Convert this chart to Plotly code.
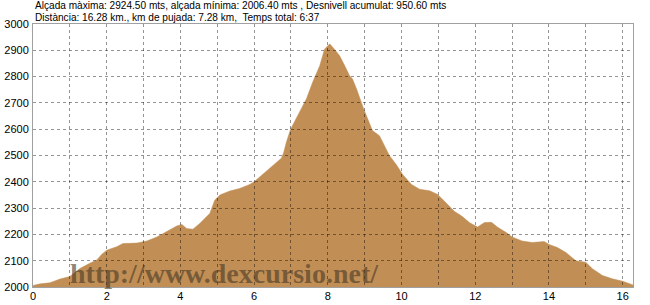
import plotly.graph_objects as go

distance_km = [0.0, 0.05, 0.2, 0.46, 0.73, 1.0, 1.27, 1.54, 1.73, 1.87, 2.0, 2.27, 2.44, 2.82,
               3.09, 3.36, 3.63, 3.9, 4.04, 4.17, 4.34, 4.53, 4.8, 4.93, 5.07, 5.34, 5.61, 5.88,
               6.0, 6.23, 6.5, 6.74, 6.8, 6.88, 6.99, 7.24, 7.42, 7.59, 7.78, 7.91, 8.05, 8.18,
               8.32, 8.46, 8.59, 8.67, 8.78, 8.97, 9.21, 9.4, 9.67, 9.86, 10.03, 10.27, 10.49,
               10.76, 10.98, 11.22, 11.43, 11.65, 11.84, 12.06, 12.25, 12.44, 12.6, 12.84, 13.0,
               13.27, 13.55, 13.87, 14.0, 14.23, 14.46, 14.73, 15.0, 15.18, 15.45, 15.72, 16.0,
               16.28]
elevation_m = [2006, 2008, 2012, 2016, 2030, 2040, 2070, 2090, 2103, 2125, 2140, 2153, 2165, 2167,
               2175, 2190, 2210, 2232, 2238, 2222, 2220, 2242, 2280, 2330, 2350, 2365, 2375, 2390,
               2400, 2427, 2460, 2490, 2510, 2553, 2600, 2666, 2716, 2779, 2841, 2904, 2924.5, 2904,
               2879, 2841, 2803, 2791, 2753, 2678, 2595, 2575, 2500, 2465, 2428, 2390, 2372,
               2366, 2352, 2318, 2288, 2268, 2245, 2228, 2245, 2246, 2228, 2207, 2190,
               2175, 2169, 2173, 2162, 2150, 2131, 2100, 2094, 2069, 2044, 2031, 2022,
               2008]

x_ticks = [0, 2, 4, 6, 8, 10, 12, 14, 16]
y_ticks = list(range(2000, 3001, 100))
x_range = [0, 16.28]
y_range = [2000, 3000]

header_line1 = "Alçada màxima: 2924.50 mts, alçada mínima: 2006.40 mts , Desnivell acumulat: 950.60 mts"
header_line2 = "Distància: 16.28 km., km de pujada: 7.28 km,  Temps total: 6:37"
watermark = "http://www.dexcursio.net/"

fill_color = "rgb(193,142,85)"

fig = go.Figure()
fig.add_trace(go.Scatter(x=distance_km, y=elevation_m, mode="lines", fill="tozeroy",
                         fillcolor=fill_color, line=dict(color=fill_color, width=0.5),
                         hoverinfo="skip", showlegend=False, xaxis="x", yaxis="y"))
# empty trace on a second, coincident subplot whose grid is drawn above the fill
fig.add_trace(go.Scatter(x=[], y=[], xaxis="x2", yaxis="y2", showlegend=False))

tick_font = dict(family="Liberation Sans, Arial, sans-serif", size=11, color="black")

fig.update_layout(
    width=650, height=305,
    margin=dict(l=33, r=17, t=24, b=18),
    paper_bgcolor="white",
    plot_bgcolor="rgba(0,0,0,0)",
    xaxis=dict(range=x_range, tickvals=x_ticks, showgrid=False, zeroline=False,
               showline=True, mirror=True, linecolor="#a0a0a0", linewidth=1,
               ticks="", tickfont=tick_font, ticklabelstandoff=-1, domain=[0, 1],
               automargin=False),
    yaxis=dict(range=y_range, tickvals=y_ticks, showgrid=False, zeroline=False,
               showline=True, mirror=True, linecolor="#a0a0a0", linewidth=1,
               ticks="", tickfont=tick_font, ticklabelstandoff=1,
               domain=[0, 1], automargin=False),
    xaxis2=dict(range=x_range, dtick=1, tick0=0, showgrid=True, griddash="dot",
                gridcolor="rgba(0,0,0,0.42)", gridwidth=1, zeroline=False,
                showticklabels=False, ticks="", anchor="y2", domain=[0, 1], automargin=False),
    yaxis2=dict(range=y_range, dtick=100, tick0=2000, showgrid=True, griddash="dot",
                gridcolor="rgba(0,0,0,0.42)", gridwidth=1, zeroline=False,
                showticklabels=False, ticks="", anchor="x2", domain=[0, 1], automargin=False),
    annotations=[
        dict(text=header_line1, xref="paper", yref="paper", x=0, y=1, yshift=19,
             xanchor="left", yanchor="middle", showarrow=False,
             font=dict(family="Liberation Sans, Arial, sans-serif", size=10.1, color="black")),
        dict(text=header_line2, xref="paper", yref="paper", x=0, y=1, yshift=7,
             xanchor="left", yanchor="middle", showarrow=False,
             font=dict(family="Liberation Sans, Arial, sans-serif", size=10.1, color="black")),
        dict(text="<b>" + watermark + "</b>", xref="paper", yref="paper", x=0.058, y=0.053,
             xanchor="left", yanchor="middle", showarrow=False,
             font=dict(family="Liberation Serif, Times New Roman, serif", size=28,
                       color="rgba(70,55,35,0.6)")),
    ],
)

fig.write_html("out.html")
